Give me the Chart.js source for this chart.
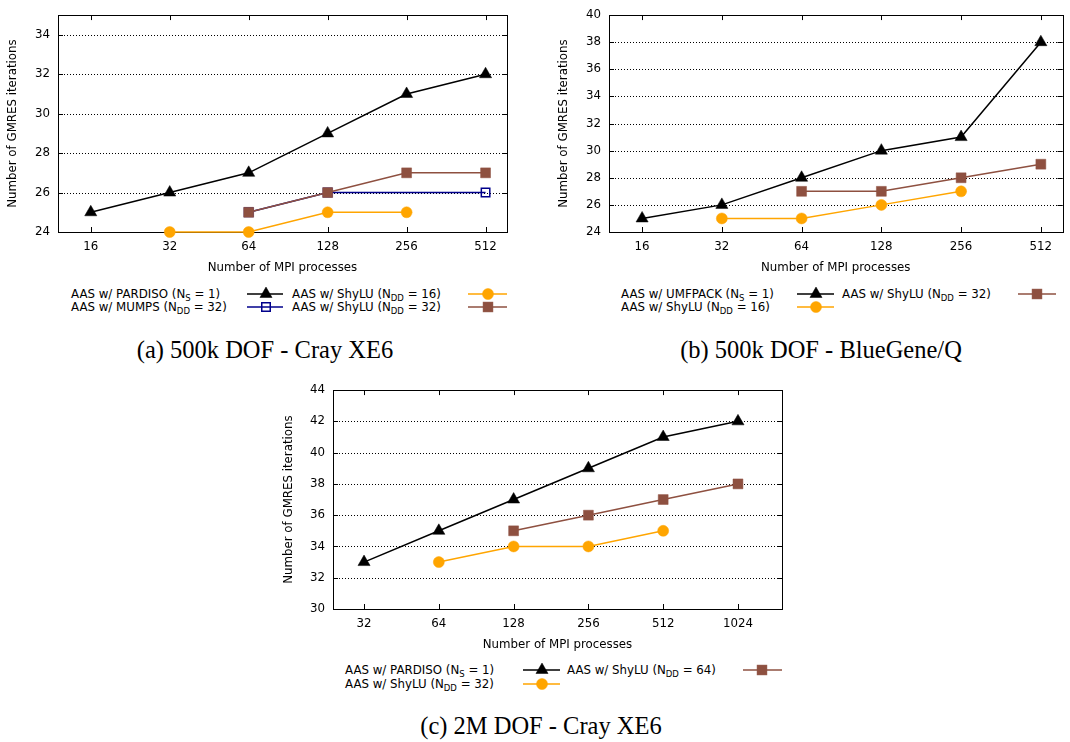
<!DOCTYPE html>
<html>
<head>
<meta charset="utf-8">
<title>GMRES iterations vs. MPI processes</title>
<script src="https://cdn.jsdelivr.net/npm/chart.js@4/dist/chart.umd.min.js"></script>
<style>
  html, body { margin: 0; padding: 0; background: #fff; }
  #page { position: relative; width: 1070px; height: 742px; overflow: hidden;
          font-family: "DejaVu Sans", sans-serif; color: #000; }
  canvas.panel { position: absolute; }
  .lg-text { position: absolute; white-space: nowrap; font-size: 11.8px; line-height: 14px; }
  .lg-text sub { font-size: 8.5px; vertical-align: -3px; line-height: 0; }
  svg.lg-sample { position: absolute; overflow: visible; }
  .caption { position: absolute; font-family: "Liberation Serif", "DejaVu Serif", serif;
             font-size: 24.5px; white-space: nowrap; transform: translate(-50%, -50%); }
</style>
</head>
<body>
<div id="page">
  <canvas id="chartA" class="panel" width="530" height="280" style="left:0px;top:0px"></canvas>
  <canvas id="chartB" class="panel" width="530" height="280" style="left:540px;top:0px"></canvas>
  <canvas id="chartC" class="panel" width="540" height="282" style="left:270px;top:375px"></canvas>
  <div class="caption" style="left:265px;top:350px">(a) 500k DOF - Cray XE6</div>
  <div class="caption" style="left:821px;top:350px">(b) 500k DOF - BlueGene/Q</div>
  <div class="caption" style="left:541px;top:726px">(c) 2M DOF - Cray XE6</div>
</div>
<script>
// ---- (a) 500k DOF on Cray XE6 ----
const procsA = [16, 32, 64, 128, 256, 512];
const pardisoA = [25, 26, 27, 29, 31, 32];
const mumps32A = [null, null, 25, 26, null, 26];
const shylu16A = [null, 24, 24, 25, 25, null];
const shylu32A = [null, null, 25, 26, 27, 27];
const yTicksA = [24, 26, 28, 30, 32, 34];

// ---- (b) 500k DOF on BlueGene/Q ----
const procsB = [16, 32, 64, 128, 256, 512];
const umfpackB = [25, 26, 28, 30, 31, 38];
const shylu16B = [null, 25, 25, 26, 27, null];
const shylu32B = [null, null, 27, 27, 28, 29];
const yTicksB = [24, 26, 28, 30, 32, 34, 36, 38, 40];

// ---- (c) 2M DOF on Cray XE6 ----
const procsC = [32, 64, 128, 256, 512, 1024];
const pardisoC = [33, 35, 37, 39, 41, 42];
const shylu32C = [null, 33, 34, 34, 35, null];
const shylu64C = [null, null, 35, 36, 37, 38];
const yTicksC = [30, 32, 34, 36, 38, 40, 42, 44];

const xTitle = 'Number of MPI processes';
const yTitle = 'Number of GMRES iterations';

// Marker / line styles for each kind of solver curve
const STYLES = {
  direct:  { color: '#000000', point: 'triangle', radius: 7,   fill: true },
  mumps:   { color: '#00008b', point: 'rect',     radius: 6,   fill: false },
  shyluLo: { color: '#ffa500', point: 'circle',   radius: 5.5, fill: true },
  shyluHi: { color: '#8e5040', point: 'rect',     radius: 7,   fill: true }
};

const FONT_SIZE = 11.8;
const FONT = { family: '"DejaVu Sans", sans-serif', size: FONT_SIZE };
const HALF_LINE = FONT_SIZE * 1.2 / 2;

function pointsOf(procs, vals) {
  const out = [];
  procs.forEach((p, i) => { if (vals[i] !== null) out.push({ x: p, y: vals[i] }); });
  return out;
}

// Border, dotted grid and inward tick marks in the gnuplot manner
const framePlugin = {
  id: 'gnuFrame',
  beforeDatasetsDraw(chart) {
    const { ctx, chartArea: a, scales: { x, y } } = chart;
    ctx.save();
    ctx.strokeStyle = '#000';
    ctx.lineWidth = 1;
    // dotted horizontal grid
    ctx.setLineDash([1, 2]);
    y.ticks.forEach(t => {
      const py = Math.round(y.getPixelForValue(t.value)) + 0.5;
      if (py <= a.top + 1 || py >= a.bottom - 1) return;
      ctx.beginPath(); ctx.moveTo(a.left, py); ctx.lineTo(a.right, py); ctx.stroke();
    });
    ctx.setLineDash([]);
    // inward tick marks on all four sides
    const L = 5;
    y.ticks.forEach(t => {
      const py = Math.round(y.getPixelForValue(t.value)) + 0.5;
      ctx.beginPath();
      ctx.moveTo(a.left, py); ctx.lineTo(a.left + L, py);
      ctx.moveTo(a.right, py); ctx.lineTo(a.right - L, py);
      ctx.stroke();
    });
    x.ticks.forEach(t => {
      const px = Math.round(x.getPixelForValue(t.value)) + 0.5;
      ctx.beginPath();
      ctx.moveTo(px, a.bottom); ctx.lineTo(px, a.bottom - L);
      ctx.moveTo(px, a.top); ctx.lineTo(px, a.top + L);
      ctx.stroke();
    });
    // frame
    ctx.strokeRect(Math.round(a.left) + 0.5, Math.round(a.top) + 0.5,
                   Math.round(a.right - a.left), Math.round(a.bottom - a.top));
    ctx.restore();
  }
};

function makePanel(id, geo, procs, xMin, xMax, yMin, yMax, yTicks, series) {
  const canvas = document.getElementById(id);
  const W = canvas.width, H = canvas.height;
  const datasets = series.map((s, i) => {
    const st = STYLES[s.style];
    return {
      label: s.label,
      data: pointsOf(procs, s.values),
      borderColor: st.color,
      borderWidth: 1.5,
      pointStyle: st.point,
      pointRadius: st.radius,
      pointHoverRadius: st.radius,
      pointBackgroundColor: st.fill ? st.color : 'rgba(0,0,0,0)',
      pointBorderColor: st.color,
      pointBorderWidth: st.fill ? 0.5 : 1.5,
      tension: 0,
      fill: false,
      clip: false,
      order: series.length - i
    };
  });
  return new Chart(canvas, {
    type: 'line',
    data: { datasets },
    plugins: [framePlugin],
    options: {
      responsive: false,
      animation: false,
      events: [],
      layout: { padding: { left: 0, top: geo.top, right: W - geo.right, bottom: 0 } },
      plugins: { legend: { display: false }, tooltip: { enabled: false } },
      scales: {
        x: {
          type: 'logarithmic',
          min: xMin, max: xMax,
          afterBuildTicks: s => { s.ticks = procs.map(v => ({ value: v })); },
          afterFit: s => { s.height = H - geo.bottom; },
          ticks: { color: '#000', font: FONT, padding: 8, maxRotation: 0, autoSkip: false,
                   callback: v => String(v) },
          grid: { display: false, drawTicks: false },
          border: { display: false },
          title: { display: true, text: xTitle, color: '#000', font: FONT,
                   padding: { top: 0, bottom: 12 - HALF_LINE } }
        },
        y: {
          type: 'linear',
          min: yMin, max: yMax,
          afterBuildTicks: s => { s.ticks = yTicks.map(v => ({ value: v })); },
          afterFit: s => { s.width = geo.left; },
          ticks: { color: '#000', font: FONT, padding: 8, callback: v => String(v) },
          grid: { display: false, drawTicks: false },
          border: { display: false },
          title: { display: true, text: yTitle, color: '#000', font: FONT,
                   padding: { top: geo.yTitleX - HALF_LINE, bottom: 0 } }
        }
      }
    }
  });
}

// HTML key with line + marker samples
function addKey(entries) {
  const page = document.getElementById('page');
  const NS = 'http://www.w3.org/2000/svg';
  entries.forEach(e => {
    const t = document.createElement('div');
    t.className = 'lg-text';
    t.innerHTML = e.label;
    t.style.left = e.textX + 'px';
    t.style.top = (e.y - 7) + 'px';
    page.appendChild(t);

    const st = STYLES[e.style];
    const w = e.x1 - e.x0;
    const svg = document.createElementNS(NS, 'svg');
    svg.setAttribute('class', 'lg-sample');
    svg.setAttribute('width', w);
    svg.setAttribute('height', 16);
    svg.style.left = e.x0 + 'px';
    svg.style.top = (e.y - 8) + 'px';
    const line = document.createElementNS(NS, 'line');
    line.setAttribute('x1', 0); line.setAttribute('x2', w);
    line.setAttribute('y1', 8); line.setAttribute('y2', 8);
    line.setAttribute('stroke', st.color); line.setAttribute('stroke-width', 1.5);
    svg.appendChild(line);
    const cx = e.mx - e.x0, cy = 8, r = st.radius;
    let m;
    if (st.point === 'triangle') {
      m = document.createElementNS(NS, 'polygon');
      const s = r * Math.sin(Math.PI * 2 / 3);
      m.setAttribute('points', `${cx},${cy - r} ${cx + s},${cy + r / 2} ${cx - s},${cy + r / 2}`);
    } else if (st.point === 'circle') {
      m = document.createElementNS(NS, 'circle');
      m.setAttribute('cx', cx); m.setAttribute('cy', cy); m.setAttribute('r', r);
    } else {
      const h = r * Math.SQRT1_2;
      m = document.createElementNS(NS, 'rect');
      m.setAttribute('x', cx - h); m.setAttribute('y', cy - h);
      m.setAttribute('width', 2 * h); m.setAttribute('height', 2 * h);
    }
    m.setAttribute('fill', st.fill ? st.color : 'none');
    m.setAttribute('stroke', st.color);
    m.setAttribute('stroke-width', st.fill ? 0.5 : 1.5);
    svg.appendChild(m);
    page.appendChild(svg);
  });
}

const LBL = {
  pardiso: 'AAS w/ PARDISO (N<sub>S</sub> = 1)',
  umfpack: 'AAS w/ UMFPACK (N<sub>S</sub> = 1)',
  mumps32: 'AAS w/ MUMPS (N<sub>DD</sub> = 32)',
  shylu16: 'AAS w/ ShyLU (N<sub>DD</sub> = 16)',
  shylu32: 'AAS w/ ShyLU (N<sub>DD</sub> = 32)',
  shylu64: 'AAS w/ ShyLU (N<sub>DD</sub> = 64)'
};

makePanel('chartA', { left: 58, top: 8, right: 507, bottom: 232, yTitleX: 13 },
  procsA, 12, 618, 24, 35, yTicksA, [
    { label: LBL.pardiso, style: 'direct',  values: pardisoA },
    { label: LBL.mumps32, style: 'mumps',   values: mumps32A },
    { label: LBL.shylu16, style: 'shyluLo', values: shylu16A },
    { label: LBL.shylu32, style: 'shyluHi', values: shylu32A }
  ]);

makePanel('chartB', { left: 69, top: 8, right: 528, bottom: 232, yTitleX: 24 },
  procsB, 12, 618, 24, 40, yTicksB, [
    { label: LBL.umfpack, style: 'direct',  values: umfpackB },
    { label: LBL.shylu16, style: 'shyluLo', values: shylu16B },
    { label: LBL.shylu32, style: 'shyluHi', values: shylu32B }
  ]);

makePanel('chartC', { left: 63, top: 10, right: 512, bottom: 234, yTitleX: 19 },
  procsC, 24, 1540, 30, 44, yTicksC, [
    { label: LBL.pardiso, style: 'direct',  values: pardisoC },
    { label: LBL.shylu32, style: 'shyluLo', values: shylu32C },
    { label: LBL.shylu64, style: 'shyluHi', values: shylu64C }
  ]);

addKey([
  { label: LBL.pardiso, style: 'direct',  textX: 71,  x0: 247, x1: 283, mx: 266,   y: 294 },
  { label: LBL.mumps32, style: 'mumps',   textX: 71,  x0: 247, x1: 283, mx: 266,   y: 307 },
  { label: LBL.shylu16, style: 'shyluLo', textX: 292, x0: 468, x1: 507, mx: 488,   y: 294 },
  { label: LBL.shylu32, style: 'shyluHi', textX: 292, x0: 468, x1: 507, mx: 488,   y: 307 },

  { label: LBL.umfpack, style: 'direct',  textX: 621, x0: 797, x1: 834, mx: 816,   y: 294 },
  { label: LBL.shylu16, style: 'shyluLo', textX: 621, x0: 797, x1: 834, mx: 816,   y: 307 },
  { label: LBL.shylu32, style: 'shyluHi', textX: 842, x0: 1018, x1: 1056, mx: 1037, y: 294 },

  { label: LBL.pardiso, style: 'direct',  textX: 345, x0: 523, x1: 560, mx: 542,   y: 670 },
  { label: LBL.shylu32, style: 'shyluLo', textX: 345, x0: 523, x1: 560, mx: 542,   y: 684 },
  { label: LBL.shylu64, style: 'shyluHi', textX: 567, x0: 743, x1: 782, mx: 762,   y: 670 }
]);
</script>
</body>
</html>
